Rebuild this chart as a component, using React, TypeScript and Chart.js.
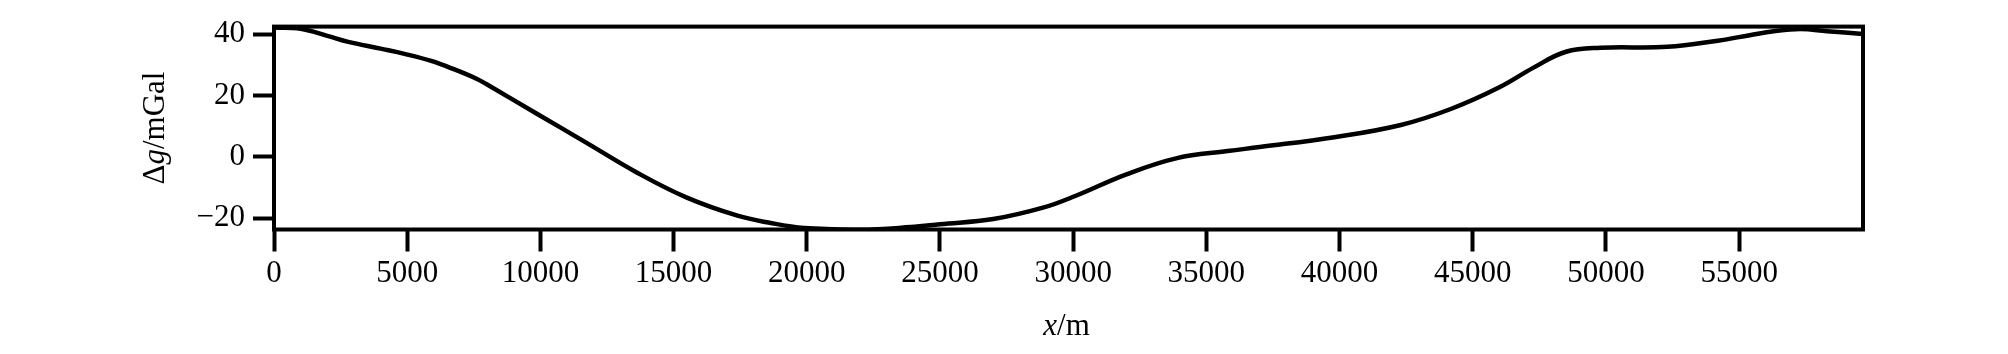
import { useEffect, useRef } from "react";
import { Chart, registerables } from "chart.js";

Chart.register(...registerables);

// distance along profile (m)
const DISTANCE_M = [
  0, 1000, 2000, 2750, 4000, 4900, 5900, 6750, 7600, 8000, 9900, 11750, 13600, 15500,
  17400, 18600, 19900, 22000, 23900, 25000, 27000, 28900, 30100, 32000, 33900,
  35800, 37000, 39800, 42300, 44200, 46000, 47300, 48500, 49800, 52300, 54200,
  55400, 56300, 57300, 58300, 59650,
];
// gravity anomaly (mGal)
const GRAVITY_MGAL = [
  42.2, 41.8, 39.5, 37.6, 35.3, 33.6, 31.3, 28.6, 25.5, 23.6, 13.9, 4.5, -5.0, -13.3,
  -19.2, -21.5, -23.2, -23.8, -22.9, -22.0, -20.3, -16.5, -12.7, -5.7, -0.4,
  1.9, 3.2, 6.4, 10.4, 15.7, 22.7, 29.2, 34.3, 35.6, 35.9, 37.9, 39.7, 41.0,
  41.7, 41.0, 40.1,
];

const X_TICKS = [0, 5000, 10000, 15000, 20000, 25000, 30000, 35000, 40000, 45000, 50000, 55000];
const Y_TICKS = [-20, 0, 20, 40];
const X_MIN = 0;
const X_MAX = 59650;
const Y_MIN = -23.7;
const Y_MAX = 42.5;

const FONT = "Liberation Serif";

const framePlugin = {
  id: "frame",
  afterDatasetsDraw(chart: any) {
    const { ctx, chartArea } = chart;
    const { left, top, right, bottom } = chartArea;
    ctx.save();
    ctx.strokeStyle = "#000";
    ctx.lineWidth = 4;
    ctx.strokeRect(left, top, right - left, bottom - top);
    ctx.restore();
  },
};

function drawParts(ctx: CanvasRenderingContext2D, parts: [string, boolean][], size: number) {
  let total = 0;
  const widths: number[] = [];
  for (const [t, it] of parts) {
    ctx.font = `${it ? "italic " : ""}${size}px "${FONT}"`;
    const w = ctx.measureText(t).width;
    widths.push(w);
    total += w;
  }
  let x = -total / 2;
  parts.forEach(([t, it], i) => {
    ctx.font = `${it ? "italic " : ""}${size}px "${FONT}"`;
    ctx.fillText(t, x, 0);
    x += widths[i];
  });
}

const titlePlugin = {
  id: "axisTitles",
  afterDraw(chart: any) {
    const { ctx, chartArea } = chart;
    ctx.save();
    ctx.fillStyle = "#000";
    ctx.textBaseline = "alphabetic";
    ctx.textAlign = "left";
    // x title
    ctx.save();
    ctx.translate((chartArea.left + chartArea.right) / 2 - 2, 335);
    drawParts(ctx, [["x", true], ["/m", false]], 31);
    ctx.restore();
    // y title
    ctx.save();
    ctx.translate(164, (chartArea.top + chartArea.bottom) / 2);
    ctx.rotate(-Math.PI / 2);
    drawParts(ctx, [["\u0394", false], ["g", true], ["/mGal", false]], 31);
    ctx.restore();
    ctx.restore();
  },
};

export default function App() {
  const ref = useRef<HTMLCanvasElement | null>(null);

  useEffect(() => {
    if (!ref.current) return;
    const data = DISTANCE_M.map((x, i) => ({ x, y: GRAVITY_MGAL[i] }));
    const chart = new Chart(ref.current, {
      type: "line",
      data: {
        datasets: [
          {
            data,
            borderColor: "#000",
            borderWidth: 4.5,
            pointRadius: 0,
            tension: 0.4,
            fill: false,
          },
        ],
      },
      options: {
        animation: false,
        responsive: false,
        devicePixelRatio: 1,
        layout: { padding: { top: 24, right: 145, left: 0, bottom: 0 } },
        plugins: { legend: { display: false }, tooltip: { enabled: false } },
        scales: {
          x: {
            type: "linear",
            min: X_MIN,
            max: X_MAX,
            afterBuildTicks: (s: any) => {
              s.ticks = X_TICKS.map((v) => ({ value: v }));
            },
            afterFit: (s: any) => {
              s.height = 124.5;
            },
            border: { display: false },
            grid: {
              display: true,
              drawOnChartArea: false,
              drawTicks: true,
              tickLength: 22,
              tickWidth: 4,
              tickColor: "#000",
            },
            ticks: {
              color: "#000",
              padding: 4,
              maxRotation: 0,
              autoSkip: false,
              font: { family: FONT, size: 31, lineHeight: 1.2 },
              callback: (v: any) => String(v),
            },
          },
          y: {
            type: "linear",
            min: Y_MIN,
            max: Y_MAX,
            afterBuildTicks: (s: any) => {
              s.ticks = Y_TICKS.map((v) => ({ value: v }));
            },
            afterFit: (s: any) => {
              s.width = 274;
            },
            border: { display: false },
            grid: {
              display: true,
              drawOnChartArea: false,
              drawTicks: true,
              tickLength: 21,
              tickWidth: 4,
              tickColor: "#000",
            },
            ticks: {
              color: "#000",
              padding: 8,
              autoSkip: false,
              font: { family: FONT, size: 31, lineHeight: 1.2 },
              callback: (v: any) => String(v).replace("-", "\u2212"),
            },
          },
        },
      },
      plugins: [framePlugin, titlePlugin],
    } as any);
    return () => chart.destroy();
  }, []);

  return (
    <div style={{ position: "fixed", left: 0, top: 0, width: 2008, height: 354, background: "#fff" }}>
      <canvas ref={ref} width={2008} height={354} style={{ display: "block" }} />
    </div>
  );
}
